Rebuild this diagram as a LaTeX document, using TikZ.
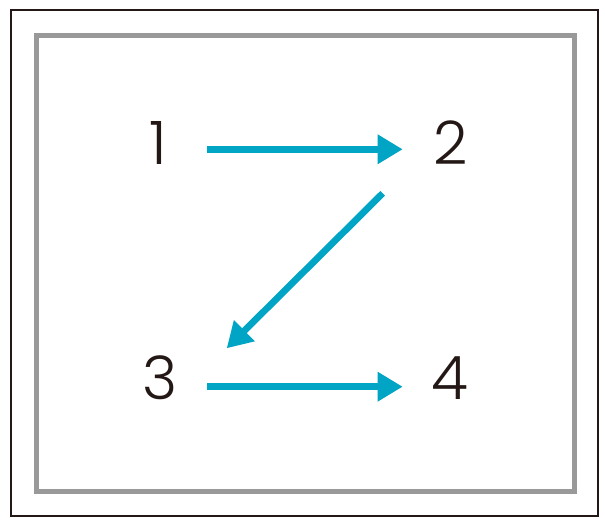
\documentclass[tikz,border=0pt]{standalone}
\usepackage{fontspec}
\setmainfont{Poppins}[UprightFont=* Light]
\usetikzlibrary{arrows.meta}
\definecolor{teal1}{HTML}{00A4C5}
\definecolor{frameg}{HTML}{999999}
\definecolor{ink}{HTML}{231815}
\tikzset{
  num/.style={anchor=base,inner sep=0pt,text=ink,font=\fontsize{60}{60}\selectfont},
  arr/.style={draw=teal1,line width=6.7pt,-{Triangle[length=25pt,width=28pt]}},
}
\begin{document}
\begin{tikzpicture}[x=1pt,y=1pt]
\useasboundingbox (0,0) rectangle (605,525);
\fill[white] (0,0) rectangle (605,525);
\draw[ink,line width=2pt] (11,514.5) rectangle (598,9.5);
\draw[frameg,line width=4.6pt] (36.5,489.7) rectangle (574.5,33.5);
\node[num] (n1) at (158,360) {1};
\node[num] (n2) at (451,360) {2};
\node[num] (n3) at (160,125) {3};
\node[num] (n4) at (450,125) {4};
\draw[arr] ([shift={(49,15.7)}]n1.base) -- ([shift={(-48.3,15.7)}]n2.base);
\draw[arr] ([shift={(-68.3,-28.3)}]n2.base) -- ([shift={(66.7,51.7)}]n3.base);
\draw[arr] ([shift={(47,13.3)}]n3.base) -- ([shift={(-47.3,13.3)}]n4.base);
\end{tikzpicture}
\end{document}
